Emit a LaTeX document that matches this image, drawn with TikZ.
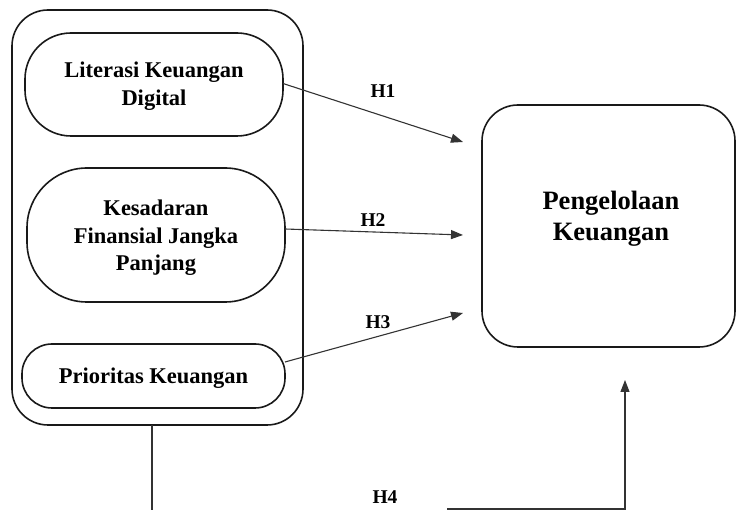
\documentclass[tikz,border=0pt]{standalone}
\usepackage{fontspec}
\setmainfont{Liberation Serif}
\usetikzlibrary{arrows.meta}
\begin{document}
\begin{tikzpicture}[x=1pt,y=-1pt,
  box/.style={draw=black!90,line width=1.6pt,inner sep=0pt,outer sep=0pt},
  txt/.style={font=\bfseries\fontsize{22.5}{27.5}\selectfont,align=center,inner sep=0pt},
  bigtxt/.style={font=\bfseries\fontsize{26.5}{31}\selectfont,align=center,inner sep=0pt},
  hlab/.style={font=\bfseries\fontsize{19.5}{22}\selectfont,inner sep=0pt},
  conn/.style={draw=black!80,line width=1.1pt},
  arr/.style={conn,-{Triangle[length=12pt,width=9pt]}}]
\useasboundingbox (0,0) rectangle (737,510);
% outer group box
\node[box,rounded corners=36pt,minimum width=291pt,minimum height=415pt] (outer) at (157.5,217.5) {};
% inner boxes
\node[box,rounded corners=46pt,minimum width=258pt,minimum height=103pt] (lit) at (154,84.5) {};
\node[txt] (litt) at (154,86) {Literasi Keuangan\\Digital};
\node[box,rounded corners=60pt,minimum width=258pt,minimum height=134pt] (kes) at (156,235) {};
\node[txt] (kest) at (156,238) {Kesadaran\\Finansial Jangka\\Panjang};
\node[box,rounded corners=30pt,minimum width=263pt,minimum height=64pt] (pri) at (153.5,376) {};
\node[txt] (prit) at (153.5,378) {Prioritas Keuangan};
% dependent variable
\node[box,rounded corners=36pt,minimum width=253pt,minimum height=242pt] (pk) at (608.5,226) {};
\node[bigtxt] (pkt) at (611,219) {Pengelolaan\\Keuangan};
% arrow ends
\coordinate (t1) at (463,142);
\coordinate (t2) at (463,235);
\coordinate (t3) at (463,313);
\coordinate (d1) at (152,510);
\coordinate (h4a) at (447,509);
\coordinate (h4b) at (625,509);
\coordinate (t4) at (625,380);
% connectors
\draw[arr] ([yshift=1pt]lit.east) -- (t1);
\draw[arr] ([yshift=6pt]kes.east) -- (t2);
\draw[arr] ([yshift=14pt]pri.east) -- (t3);
\draw[conn] (outer.south -| d1) -- (d1);
\draw[arr] (h4a) -- (h4b) -- (t4);
% labels
\node[hlab] (h1) at (383,91) {H1};
\node[hlab] (h2) at (373,220) {H2};
\node[hlab] (h3) at (378,322) {H3};
\node[hlab] (h4) at (385,497) {H4};
\end{tikzpicture}
\end{document}
